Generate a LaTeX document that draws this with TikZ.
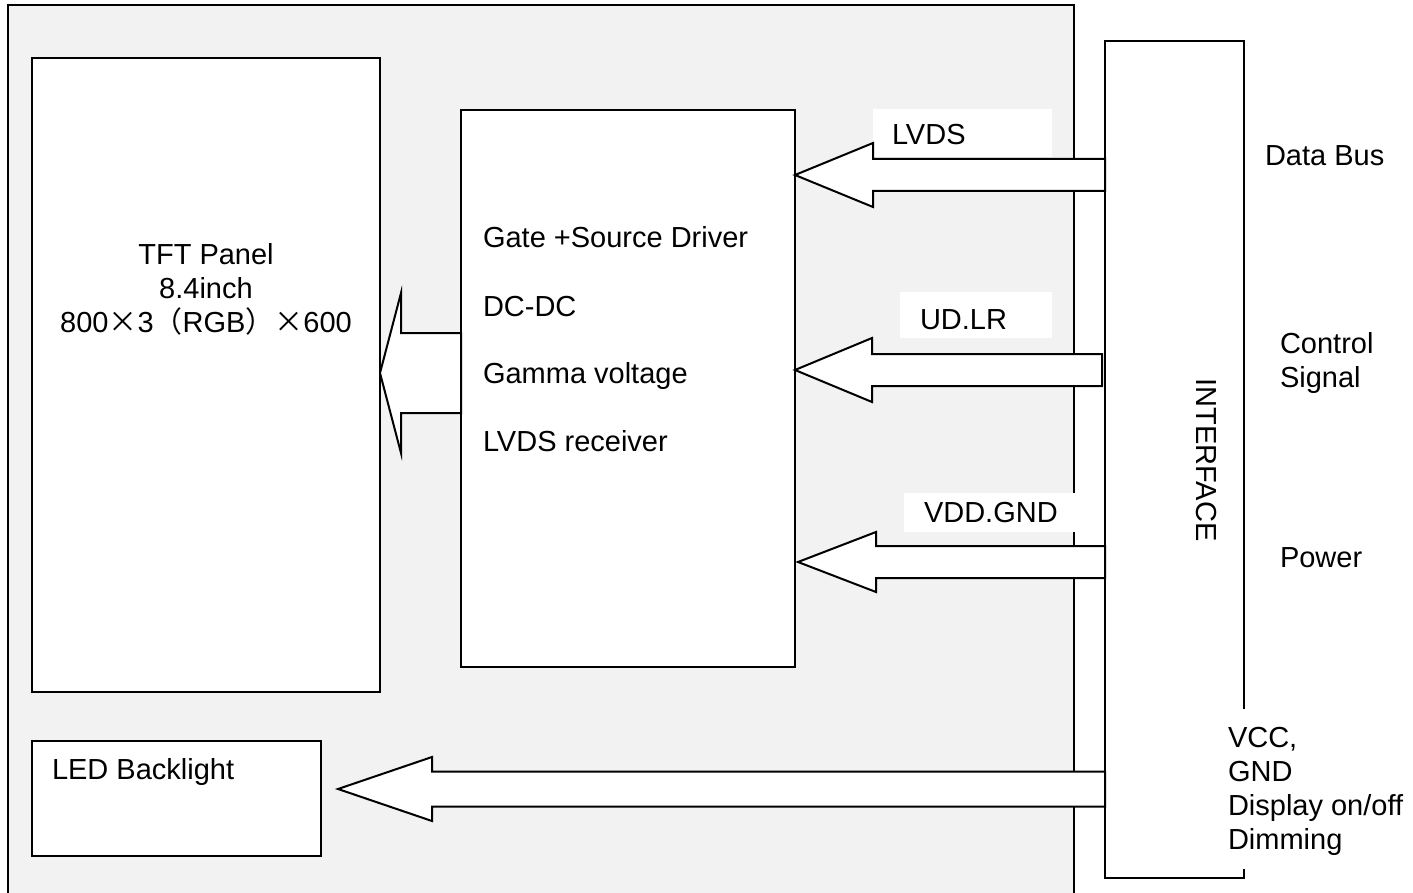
\documentclass[tikz,border=0pt]{standalone}
\usepackage{fontspec}
\setmainfont{Liberation Sans}
\newfontfamily\cjk{Noto Sans CJK SC}
\usetikzlibrary{calc}
\definecolor{bg}{RGB}{242,242,242}
\newcommand\blockarrow[5]{% tip, end, head length, head half, shaft half
  \draw[barrow] (#1) -- ++(#3,-#4) -- ++(0,#4-#5) -- ($(#2)+(0,-#5)$) -- ($(#2)+(0,#5)$) -- ($(#1)+(#3,#5)$) -- ++(0,#4-#5) -- cycle;}
\begin{document}
\begin{tikzpicture}[x=0.5pt,y=-0.5pt,
  every node/.style={font=\fontsize{14.5}{17}\selectfont, inner sep=0pt, outer sep=0pt},
  box/.style={draw, line width=1pt, fill=white, anchor=north west},
  barrow/.style={draw, line width=1pt, fill=white, line join=miter},
  lab/.style={anchor=base west, align=left},
  mask/.style={fill=white, draw=none}
]
\useasboundingbox (0,0) rectangle (1413,893);
\fill[white] (0,0) rectangle (1413,893);
% outer frame
\draw[line width=1pt, fill=bg] (8,5) rectangle (1074,898);
% boxes
\node[box, minimum width=174pt, minimum height=317pt] (panel) at (32,58) {};
\node[box, minimum width=167pt, minimum height=278.5pt] (drv) at (461,110) {};
\node[box, minimum width=144.5pt, minimum height=57.5pt] (led) at (32,741) {};
\node[box, minimum width=69.5pt, minimum height=418.5pt] (iface) at (1105,41) {};
% label backgrounds
\fill[mask] (873,109) rectangle (1052,157);
\fill[mask] (900,292) rectangle (1052,338);
\fill[mask] (904,493) rectangle (1075,532);
% block arrows
\blockarrow{panel.east |- 0,373}{drv.west |- 0,373}{21}{80}{40}
\blockarrow{drv.east |- 0,175}{iface.west |- 0,175}{78}{32}{16}
\blockarrow{drv.east |- 0,370}{$(iface.west |- 0,370)+(-3,0)$}{77}{32}{16}
\blockarrow{$(drv.east |- 0,562)+(3,0)$}{iface.west |- 0,562}{78}{30}{16}
\blockarrow{$(led.east |- 0,789)+(17,0)$}{iface.west |- 0,789}{94}{32}{17.5}
% redraw interface left edge over arrow ends
\draw[line width=1pt] (iface.north west) -- (iface.south west);
% mask on interface right edge behind VCC text
\fill[mask] (1222,709) rectangle (1262,869);
% texts
\node[anchor=base, align=center] (tft) at (206,332) {TFT Panel\\8.4inch\\800\makebox[1em]{\cjk ×}3\makebox[1em]{\cjk （}RGB\makebox[1em]{\cjk ）}\makebox[1em]{\cjk ×}600};
\node[lab] (t1) at (483,248) {Gate +Source Driver};
\node[lab] (t2) at (483,316) {DC-DC};
\node[lab] (t3) at (483,383) {Gamma voltage};
\node[lab] (t4) at (483,451) {LVDS receiver};
\node[lab] (l1) at (892,145) {LVDS};
\node[lab] (l2) at (920,329) {UD.LR};
\node[lab] (l3) at (924,522) {VDD.GND};
\node[lab] (r1) at (1265,166) {Data Bus};
\node[lab] (r2) at (1280,387) {Control\\Signal};
\node[lab] (r3) at (1280,567) {Power};
\node[lab] (r4) at (1228,849) {VCC,\\GND\\Display on/off\\Dimming};
\node[lab] (ledt) at (52,779) {LED Backlight};
\node[rotate=-90] (ift) at (1206,460) {INTERFACE};
\end{tikzpicture}
\end{document}
